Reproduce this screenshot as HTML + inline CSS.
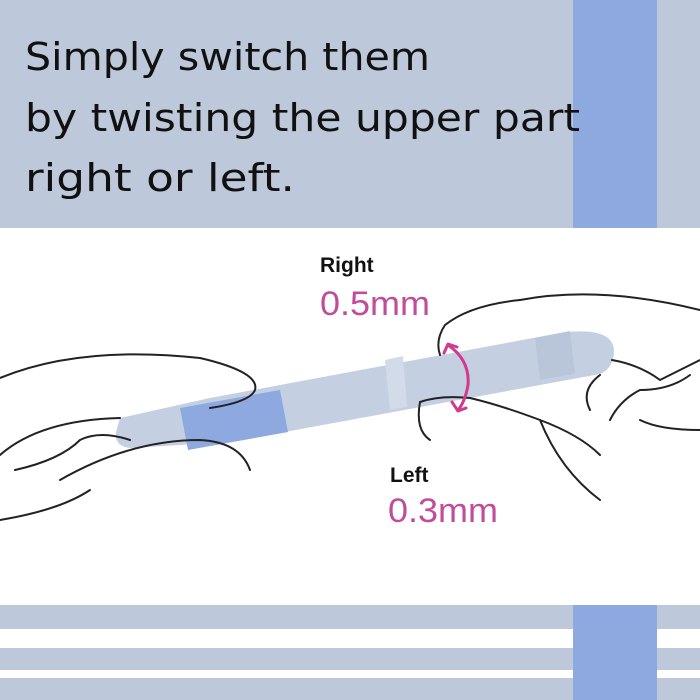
<!DOCTYPE html>
<html><head><meta charset="utf-8"><style>
html,body{margin:0;padding:0;background:#fff}
svg{display:block}
</style></head><body>
<svg width="700" height="700" viewBox="0 0 700 700" xmlns="http://www.w3.org/2000/svg">
<rect x="0" y="0" width="700" height="228" fill="#bdc9db"/>
<rect x="573" y="0" width="84" height="228" fill="#8ea8e0"/>
<g font-family="DejaVu Sans, sans-serif" font-size="38" fill="#111">
<text x="25" y="70" textLength="405" lengthAdjust="spacingAndGlyphs">Simply switch them</text>
<text x="25" y="131" textLength="555" lengthAdjust="spacingAndGlyphs">by twisting the upper part</text>
<text x="25" y="191" textLength="270" lengthAdjust="spacingAndGlyphs">right or left.</text>
</g>
<rect x="0" y="605" width="700" height="24" fill="#bdc9db"/>
<rect x="0" y="648" width="700" height="22" fill="#bdc9db"/>
<rect x="0" y="678" width="700" height="22" fill="#bdc9db"/>
<rect x="573" y="605" width="84" height="95" fill="#8ea8e0"/>
<g>
<path d="M116,432 L120,418 L210,398 L560,333 Q612,326 614,350 Q614,368 600,374 L230,442 L130,448 Q114,446 116,432 Z" fill="#c4d0e2"/>
<path d="M180,408 L280,390 L288,432 L188,450 Z" fill="#8ea8e0"/>
<path d="M385,360 L403,356 L407,407 L390,410 Z" fill="#d2dbe9"/>
<path d="M535,338 L570,331 L575,374 L540,380 Z" fill="#b9c6da"/>
</g>
<g fill="none" stroke="#222" stroke-width="2" stroke-linecap="round">
<path d="M0,378 Q80,345 200,358 Q260,372 255,390 Q250,402 210,408"/>
<path d="M0,455 Q40,420 120,418"/>
<path d="M15,470 Q60,460 80,440 Q100,430 130,440"/>
<path d="M60,480 Q130,440 200,440 Q240,442 250,470"/>
<path d="M0,520 Q60,510 90,490"/>
<path d="M520,300 Q470,305 445,325 Q435,340 440,355"/>
<path d="M520,300 Q600,285 700,310"/>
<path d="M612,360 Q640,365 660,380 Q690,365 700,360"/>
<path d="M690,375 Q670,390 640,390 Q620,400 610,420"/>
<path d="M700,430 Q660,430 640,420"/>
<path d="M600,375 Q580,390 590,410"/>
<path d="M420,402 Q440,395 470,398 Q500,405 540,420 Q580,435 600,455"/>
<path d="M420,402 Q415,430 430,440"/>
<path d="M540,420 Q560,470 600,500"/>
</g>
<g fill="none" stroke="#d13b8d" stroke-width="3" stroke-linecap="round" stroke-linejoin="round">
<path d="M448,345 Q470,360 468,385 Q465,402 458,410"/>
<path d="M444,353 L448,344 L457,347"/>
<path d="M452,402 L458,411 L466,408"/>
</g>
<g font-family="Liberation Sans, sans-serif">
<text x="320" y="272" font-size="21" font-weight="bold" fill="#111">Right</text>
<text x="320" y="315" font-size="34" fill="#c04c9a" textLength="110" lengthAdjust="spacingAndGlyphs">0.5mm</text>
<text x="390" y="482" font-size="21" font-weight="bold" fill="#111">Left</text>
<text x="388" y="522" font-size="34" fill="#c04c9a" textLength="110" lengthAdjust="spacingAndGlyphs">0.3mm</text>
</g>
</svg>
</body></html>
